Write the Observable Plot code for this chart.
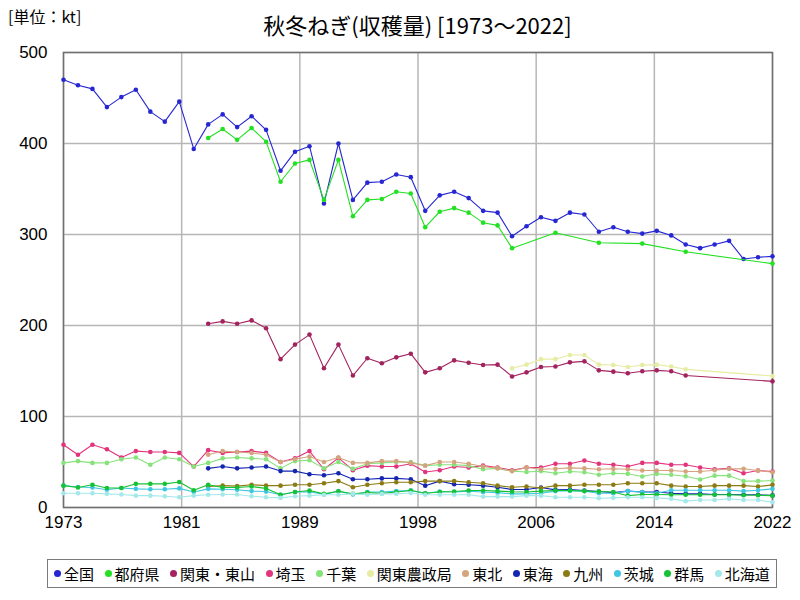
<!DOCTYPE html>
<html><head><meta charset="utf-8">
<script src="https://cdn.jsdelivr.net/npm/d3@7"></script>
<script src="https://cdn.jsdelivr.net/npm/@observablehq/plot@0.6"></script>
<style>
body{margin:0;background:#fff;font-family:"Noto Sans CJK JP",sans-serif;}
#wrap{position:relative;width:800px;height:600px;overflow:hidden;}
#unit{position:absolute;left:8px;top:4px;font-size:16px;}
#title{position:absolute;left:0;width:835px;text-align:center;top:8px;font-size:22px;}
#chart{position:absolute;left:0;top:40px;}
#legend{position:absolute;left:47px;top:559px;width:730px;height:29px;border:1.5px solid #7a7a7a;box-sizing:border-box;display:flex;justify-content:space-between;align-items:center;padding:0 6px;font-size:15px;}
#legend .it{display:flex;align-items:center;white-space:nowrap;}
#legend .dot{display:inline-block;width:7px;height:7px;border-radius:50%;margin-right:3px;}
</style></head>
<body><div id="wrap">
<div id="unit">[単位：kt]</div>
<div id="title">秋冬ねぎ(収穫量) [1973～2022]</div>
<div id="chart"></div>
<div id="legend"></div>
</div>
<script>
const years = d3.range(1973, 2023);
const seriesNames = ["全国","都府県","関東・東山","埼玉","千葉","関東農政局","東北","東海","九州","茨城","群馬","北海道"];
const seriesColors = ["#2626d2","#22e022","#a3235e","#e3337c","#86e27a","#e6eca2","#d4a47e","#1426ae","#8c7a12","#40c6e2","#14c233","#a4e8ea"];
const N = null;
// values per year 1973..2022 (kt)
const zenkoku = [470,464,460,440,451,459,435,424,446,394, 421,432,418,430,415,370,391,397,334,400, 338,357,358,366,363,326,343,347,340,326, 324,298,309,319,315,324,322,303,308,303, 301,304,299,289,285,289,293,273,275,276];
const todofuken = [N,N,N,N,N,N,N,N,N,N, 406,416,404,417,402,358,378,382,338,382, 320,338,339,347,345,308,325,329,324,313, 310,285,N,N,302,N,N,291,N,N, 290,N,N,281,N,N,N,N,N,268];
const kantoTozan = [N,N,N,N,N,N,N,N,N,N, 202,204.5,202,205.6,197,163,179,190,153,179, 145,164,158.5,165,169,148.5,153,161.7,159,156.6, 157,144,148.5,154.4,155,159.5,160.6,150.7,149.3,147.5, 149.7,150.7,149.7,145,N,N,N,N,N,138.6];
const saitama = [69,58,69,64,55,62,61,61,60,45, 63,60,61,62,60,50,54,62,42,54.5, 41,46,45,45,48,39,41,45,44,46, 44,41,44,44,48,48,51.6,48,47,45, 49,49,47,47,44,42,43,37.7,40.6,39.5];
const chiba = [49,51,49,49,53,55,47,55,53,45, 49,54,55,54,53,43,51,52,43,50, 42.5,48,49,50,50,46,47,47,46,42, 43,40,39,40,37.7,39.5,38.8,36,37.7,37, 34,37,36,34.4,30.7,35,35,29,29,29.6];
const kantoNoseikyoku = [N,N,N,N,N,N,N,N,N,N, N,N,N,N,N,N,N,N,N,N, N,N,N,N,N,N,N,N,N,N, N,153,157,163,163,167.6,167.6,157,156.6,154.4, 156.6,157,155,151.8,N,N,N,N,N,144.5];
const tohoku = [N,N,N,N,N,N,N,N,N,N, 58,62,61,60,58,50,53,56,50,55, 49,49,51,51,49,46,50,50,48,45, 43,40,44,42,42.5,43.5,43,42,42.5,42, 40.6,40.6,40.6,39.5,39.5,41,42.5,42.5,40.6,38.8];
const tokai = [N,N,N,N,N,N,N,N,N,N, 43,45,43,44,45,40,40,36.5,35.5,37.7, 31,31,32,32,31,24,29,25.6,25,24, 22.3,19.8,19.8,22,19.4,19.8,18.7,17.5,16.3,18, 17,17,15.7,15,15,14.3,14.3,14,14,13.3];
const kyushu = [N,N,N,N,N,N,N,N,N,N, 23,24,23.5,25,24,24,25,25,26.7,29, 22.3,25,26.7,27.8,27.8,29,29,29,27.8,26.7, 24,22.3,23,21.5,24,24,25,25,25,26.7, 26.7,26.7,24,23,23,24,24,24,23,24.9];
const ibaraki = [24,22.5,22,19.5,21.5,20.5,20,20,21,17, 20.5,20,19.5,18,17.5,14,17,17.3,14.3,18, 14.3,17,17,18,18.7,15.7,17.5,17,18,17, 16.3,15,15,15.7,18,18.5,18,15.7,15.7,18, 17,15.7,19,19,19,19,19,18,19,20.5];
const gunma = [24,22,25,21.5,21.5,26,26,26,28,19, 25,22,22,23,21,14,17,18.7,15,17.9, 15,16.5,15.5,17,18.7,15.7,17,17.5,18.7,18.7, 18,17.3,17,18,18.7,18.7,18,17.5,17,13, 14.3,14.3,14,14,14,14,14,13.5,13.5,13];
const hokkaido = [15.7,15.7,15.7,15,14.3,13,13,12.4,11.3,13, 14,14.3,14.3,12.4,11.3,10.6,12.4,13,14,14, 15,14,15,15,16,14,14,14,14,12, 12,12,13,13,11.3,11.3,11.3,10.2,10.6,11.3, 11.3,10.6,9.5,7,8.3,8.3,9.5,8.3,8.3,5.8];
const yTicks = [0,100,200,300,400,500];

const seriesValues = [zenkoku,todofuken,kantoTozan,saitama,chiba,kantoNoseikyoku,tohoku,tokai,kyushu,ibaraki,gunma,hokkaido];
const series = seriesNames.map((name,i)=>({
  name, color: seriesColors[i],
  data: years.map((year,j)=>({year, value: seriesValues[i][j]})).filter(d=>d.value!=null)
}));

const x0 = years[0], x1 = years[years.length-1];
const xTicks = d3.range(7).map(i => x0 + i*(x1-x0)/6);

const marks = [
  Plot.gridX(xTicks, {stroke:"#b6b6b6", strokeWidth:1.5, strokeOpacity:1}),
  Plot.gridY(yTicks, {stroke:"#b6b6b6", strokeWidth:1.5, strokeOpacity:1}),
  Plot.frame({stroke:"#707070", strokeWidth:1.5}),
];
for (const s of series) {
  marks.push(Plot.line(s.data, {x:"year", y:"value", stroke:s.color, strokeWidth:1.1}));
  marks.push(Plot.dot(s.data, {x:"year", y:"value", fill:s.color, r:2.3}));
}
marks.push(Plot.axisX(xTicks, {tickSize:0, tickPadding:8, tickFormat:d=>String(Math.round(d)), fontSize:17, label:null}));
marks.push(Plot.axisY(yTicks, {tickSize:0, tickPadding:16, fontSize:17, label:null}));

const chart = Plot.plot({
  width:800, height:495,
  marginLeft:63, marginRight:28, marginTop:12, marginBottom:28,
  style:{fontFamily:"'Liberation Sans', sans-serif", color:"#000", background:"#fff"},
  x:{domain:[x0,x1]},
  y:{domain:[0,500]},
  marks
});
document.getElementById("chart").appendChild(chart);

const leg = document.getElementById("legend");
series.forEach(s=>{
  const it = document.createElement("span"); it.className="it";
  const d = document.createElement("span"); d.className="dot"; d.style.background=s.color;
  it.appendChild(d); it.appendChild(document.createTextNode(s.name));
  leg.appendChild(it);
});
</script>
</body></html>
